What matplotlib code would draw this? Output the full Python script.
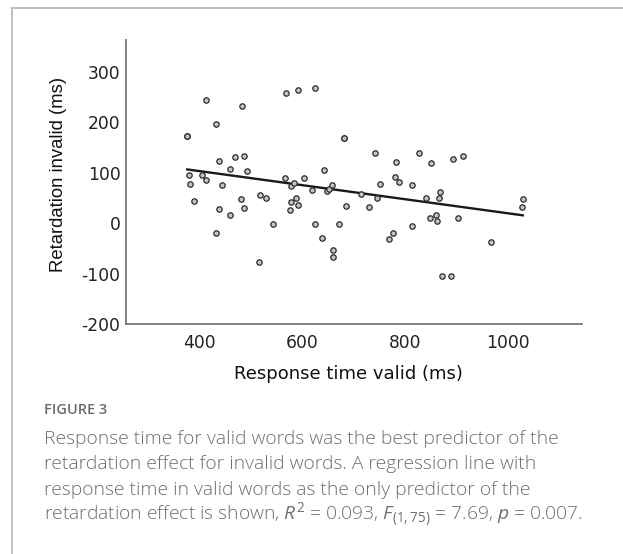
import numpy as np
import matplotlib.pyplot as plt
from matplotlib.lines import Line2D

# response time for valid words (ms) and retardation effect for invalid words (ms)
rt_valid = [414, 483, 433, 377, 377, 568, 593, 626, 682, 682,
            439, 470, 487, 460, 494, 380, 405, 414, 383, 444,
            566, 603, 643, 579, 584, 620, 648, 653, 658, 715,
            391, 481, 518, 530, 588, 579, 592, 438, 488, 460,
            577, 685, 730, 544, 625, 672, 639, 432, 661, 660,
            516, 742, 828, 782, 851, 894, 913, 781, 788, 751,
            814, 746, 841, 868, 867, 1029, 1028, 861, 848, 863,
            903, 814, 777, 769, 968, 872, 889]
retardation = [244, 233, 196, 172, 172, 257, 263, 268, 168, 168,
               123, 132, 133, 107, 104, 96, 95, 85, 78, 76,
               89, 89, 106, 73, 79, 65, 64, 68, 76, 58,
               44, 48, 56, 50, 49, 42, 35, 27, 29, 16,
               26, 33, 31, -2, -1, -1, -30, -20, -53, -67,
               -78, 138, 139, 122, 120, 127, 134, 91, 82, 77,
               75, 49, 49, 61, 49, 48, 31, 17, 10, 4,
               10, -6, -19, -32, -38, -104, -105]

yticks = [-200, -100, 0, 100, 200, 300]
xticks = [400, 600, 800, 1000]

x = np.array(rt_valid)
y = np.array(retardation)
slope, intercept = np.polyfit(x, y, 1)
xfit = np.array([x.min(), x.max()])

plt.rcParams['mathtext.fontset'] = 'custom'
plt.rcParams['mathtext.rm'] = 'Open Sans'
plt.rcParams['mathtext.it'] = 'Open Sans:italic'

fig = plt.figure(figsize=(6.23, 5.54), dpi=100)
ax = fig.add_axes([126 / 623, 1 - 324 / 554, 456 / 623, 284 / 554])

ax.scatter(x, y, s=15, facecolor='#c4c4c4', edgecolor='#2a2a2a', linewidth=0.9, zorder=3)
ax.plot(xfit, slope * xfit + intercept, color='#1a1a1a', linewidth=1.7, zorder=2)

ax.set_xlim(258, 1144)
ax.set_ylim(-200, 363)
ax.set_xticks(xticks)
ax.set_yticks(yticks)
ax.set_yticklabels([str(t) for t in yticks])
ax.tick_params(length=0, labelsize=12.3, colors='#222222')
ax.tick_params(axis='y', pad=4)
ax.tick_params(axis='x', pad=7)
for lab in ax.get_xticklabels() + ax.get_yticklabels():
    lab.set_family('DejaVu Sans')
for side in ['top', 'right']:
    ax.spines[side].set_visible(False)
for side in ['left', 'bottom']:
    ax.spines[side].set_color('#777777')
    ax.spines[side].set_linewidth(1.3)

ax.set_xlabel('Response time valid (ms)', family='DejaVu Sans', fontsize=13,
              color='#111111')
ax.xaxis.set_label_coords(0.487, -0.144)
ax.set_ylabel('Retardation invalid (ms)', family='Liberation Sans', fontsize=13.3,
              color='#111111', va='center')
ax.yaxis.set_label_coords(-0.149, 0.525)

# frame of the figure panel
fig.add_artist(Line2D([12 / 623, 12 / 623], [0, 1 - 8 / 554], color='#bbbbbb', linewidth=1.3))
fig.add_artist(Line2D([12 / 623, 1], [1 - 8 / 554, 1 - 8 / 554], color='#bbbbbb', linewidth=1.3))

fig.text(44 / 623, 1 - 410 / 554, 'FIGURE 3', family='Open Sans', fontsize=10.5,
         fontweight='semibold', color='#6b6b6b', va='center')
caption = [
    'Response time for valid words was the best predictor of the',
    'retardation effect for invalid words. A regression line with',
    'response time in valid words as the only predictor of the',
    r'retardation effect is shown, $R^2$ = 0.093, $F_{(1,75)}$ = 7.69, $p$ = 0.007.',
]
for i, line in enumerate(caption):
    fig.text(44 / 623, 1 - (439 + i * 25.3) / 554, line, family='Open Sans', fontsize=13.9,
             fontweight='light', color='#6e6e6e', va='center')

fig.savefig('out.png', dpi=100)
